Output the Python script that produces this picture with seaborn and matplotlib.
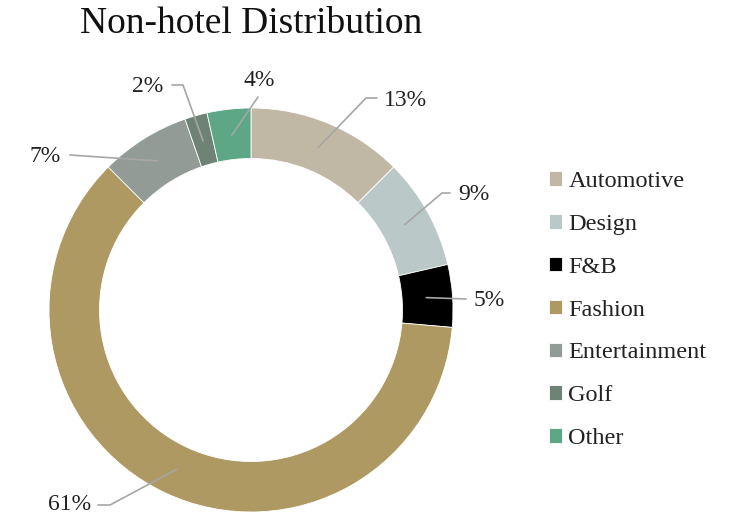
import numpy as np
import matplotlib
matplotlib.use("Agg")
import matplotlib.pyplot as plt
import seaborn as sns

categories = ["Automotive", "Design", "F&B", "Fashion", "Entertainment", "Golf", "Other"]
shares = [12.5, 8.9, 5.0, 61.2, 7.2, 1.8, 3.5]
pct_labels = ["13%", "9%", "5%", "61%", "7%", "2%", "4%"]
colors = ["#C0B8A4", "#BAC8C8", "#000000", "#AE9962", "#939B96", "#6E8375", "#5DA786"]

sns.set_theme(style="white")
plt.rcParams["font.family"] = ["Liberation Serif", "DejaVu Serif"]

W, H = 733, 515
cx, cy, R = 251, 310, 202
fig = plt.figure(figsize=(W / 100, H / 100), dpi=100)
ax = fig.add_axes([(cx - R) / W, (H - cy - R) / H, 2 * R / W, 2 * R / H])

wedges, _ = ax.pie(shares, colors=colors, startangle=90, counterclock=False,
                   radius=1.0, wedgeprops=dict(width=0.25, edgecolor="white", linewidth=0.6))
ax.set_xlim(-1, 1)
ax.set_ylim(-1, 1)
ax.set_aspect("equal")
ax.axis("off")


def px(x, y):
    return (x - cx) / R, (cy - y) / R


# leader-line layout (pixel positions): elbow, end, text pos, alignment
layout = [
    ((366, 98), (377, 98), (384, 100), "left"),
    ((442, 193), (450, 193), (458, 195), "left"),
    (None, (466, 299), (474, 300), "left"),
    ((110, 505), (98, 505), (91, 505), "right"),
    (None, (70, 155), (61, 157), "right"),
    ((183, 85), (172, 85), (163, 87), "right"),
    (None, (258, 97), (259, 80), "center"),
]

for w, lab, (elbow, end, tpos, ha) in zip(wedges, pct_labels, layout):
    mid = np.deg2rad((w.theta1 + w.theta2) / 2)
    pts = [(0.87 * np.cos(mid), 0.87 * np.sin(mid))]
    if elbow is not None:
        pts.append(px(*elbow))
    pts.append(px(*end))
    xs, ys = zip(*pts)
    ax.plot(xs, ys, color="#A6A6A6", lw=1.2, clip_on=False)
    tx, ty = px(*tpos)
    ax.text(tx, ty, lab, ha=ha, va="center", fontsize=17, color="#222222")

fig.text(cx / W, 1 - 24 / H, "Non-hotel Distribution", ha="center", va="center",
         fontsize=27, color="#111111")

ax.legend(wedges, categories, loc="upper left", bbox_to_anchor=(549 / W, 1 - 171 / H),
          bbox_transform=fig.transFigure, frameon=False, fontsize=17.5,
          handlelength=0.55, handleheight=0.55, handletextpad=0.25,
          labelspacing=0.9, borderpad=0, borderaxespad=0, labelcolor="#222222")

fig.savefig("out.png", dpi=100)
